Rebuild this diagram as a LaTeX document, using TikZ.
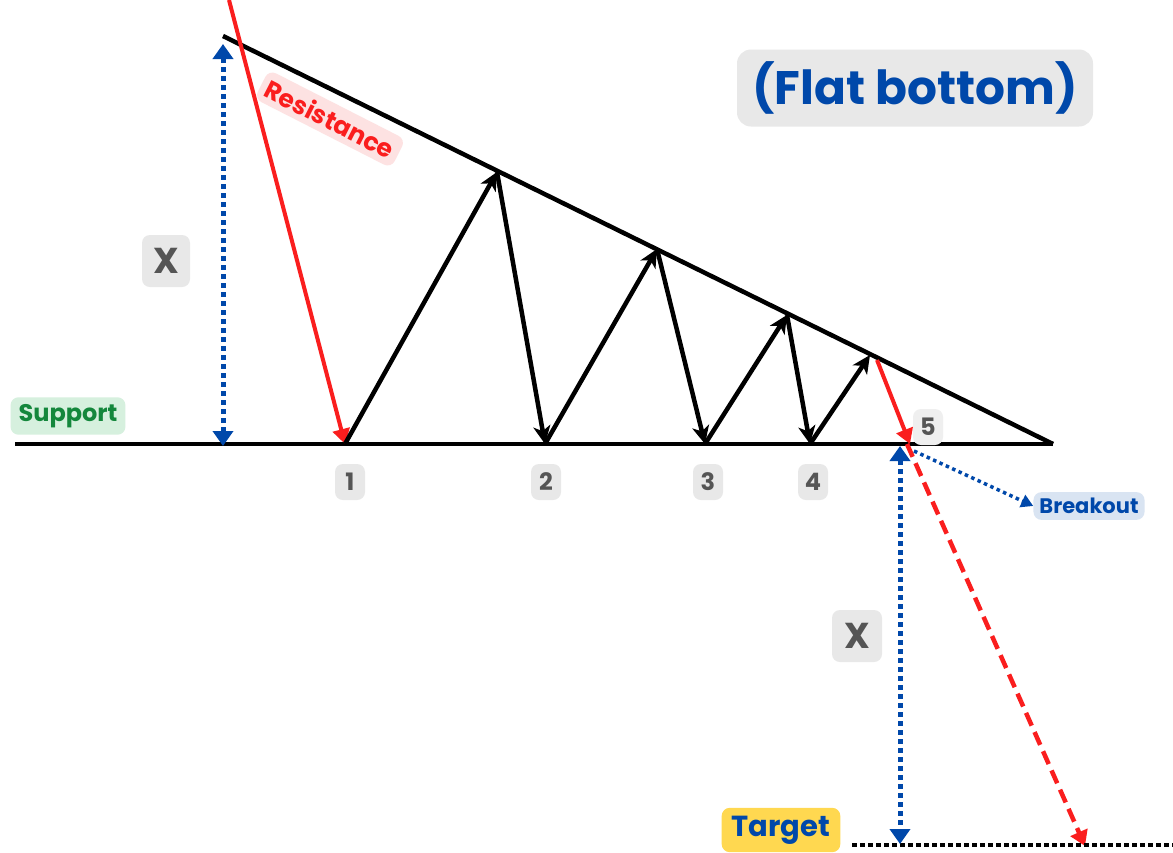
\documentclass[tikz,border=0pt]{standalone}
\usepackage{fontspec}
\setmainfont{Poppins}[BoldFont={* Bold}]
\usetikzlibrary{arrows.meta}
\definecolor{myblue}{RGB}{0,72,170}
\definecolor{myred}{RGB}{250,30,30}
\definecolor{pinkbg}{RGB}{253,226,226}
\definecolor{greentx}{RGB}{20,135,60}
\definecolor{greenbg}{RGB}{214,240,222}
\definecolor{graybg}{RGB}{232,232,232}
\definecolor{graytx}{RGB}{85,85,85}
\definecolor{yellowbg}{RGB}{255,216,80}
\begin{document}
\begin{tikzpicture}[x=1pt,y=-1pt,
  lbl/.style={rounded corners=8pt,inner sep=4pt,font=\bfseries},
  numlbl/.style={lbl,fill=graybg,text=graytx,font=\bfseries\fontsize{24}{24}\selectfont,minimum width=30pt,minimum height=36pt,inner sep=2pt},
  blk/.style={line width=4.5pt},
  blkarr/.style={blk,-{Stealth[length=18pt,width=17pt,inset=5pt]}},
  redarr/.style={myred,line width=4pt,-{Triangle[length=15pt,width=17pt]}},
  bluedot/.style={myblue,line width=5pt,dash pattern=on 5pt off 4pt},
  bluetip/.style={{Triangle[length=15pt,width=20pt]}-{Triangle[length=15pt,width=20pt]}},
]
\useasboundingbox (0,0) rectangle (1173,852);
\fill[white] (0,0) rectangle (1173,852);
% points
\coordinate (sL) at (15,444);
\coordinate (sR) at (1053,444);
\coordinate (rL) at (223,36);
\coordinate (r0) at (229,0);
\coordinate (b1) at (345,444);
\coordinate (p1) at (497,172);
\coordinate (b2) at (545,444);
\coordinate (p2) at (657,249);
\coordinate (b3) at (705,444);
\coordinate (p3) at (787,315);
\coordinate (b4) at (810,444);
\coordinate (p4) at (870,355);
\coordinate (q4) at (877,360);
\coordinate (b5) at (910,444);
\coordinate (d5) at (907,444);
\coordinate (tg) at (1085,846);
\coordinate (xT) at (223,44);
\coordinate (xB) at (223,446);
\coordinate (yT) at (900,446);
\coordinate (yB) at (900,844);
\coordinate (bk0) at (914,451);
\coordinate (tL) at (852,845);
\coordinate (tR) at (1173,845);
% support & resistance
\draw[blk] (sL) -- (sR);
\draw[blk] (rL) -- (sR);
% zigzag
\draw[redarr] (r0) -- (b1);
\draw[blkarr] (b1) -- (p1);
\draw[blkarr] (p1) -- (b2);
\draw[blkarr] (b2) -- (p2);
\draw[blkarr] (p2) -- (b3);
\draw[blkarr] (b3) -- (p3);
\draw[blkarr] (p3) -- (b4);
\draw[blkarr] (b4) -- (p4);
\draw[redarr] (q4) -- (b5);
\draw[myred,line width=4.5pt,dash pattern=on 14pt off 7pt,-{Triangle[length=15pt,width=18pt]}] (d5) -- (tg);
% target dotted line
\draw[line width=4.5pt,dash pattern=on 4.5pt off 3.5pt] (tL) -- (tR);
% measure arrows
\draw[bluedot,bluetip] (xT) -- (xB);
\draw[bluedot,bluetip] (yT) -- (yB);
% labels
\node[lbl,fill=greenbg,text=greentx,font=\bfseries\fontsize{24}{24}\selectfont,inner xsep=8pt,inner ysep=7pt] (sup) at (68,416) {Support};
\node[lbl,fill=graybg,text=graytx,font=\bfseries\fontsize{36}{36}\selectfont,minimum width=48pt,minimum height=52pt,inner sep=1pt] (x1) at (166,261) {X};
\node[lbl,fill=graybg,text=graytx,font=\bfseries\fontsize{36}{36}\selectfont,minimum width=50pt,minimum height=52pt,inner sep=1pt] (x2) at (857,636) {X};
\node[lbl,fill=pinkbg,text=myred,font=\bfseries\fontsize{25}{25}\selectfont,rotate=-27,inner xsep=6pt,inner ysep=6pt] (res) at (330,119) {Resistance};
\node[lbl,fill=graybg,text=myblue,font=\bfseries\fontsize{47}{47}\selectfont,minimum width=356pt,minimum height=77pt,rounded corners=14pt,inner sep=1pt] (title) at (915,88) {(Flat bottom)};
\node[numlbl] (n1) at (350,482) {1};
\node[numlbl] (n2) at (546,482) {2};
\node[numlbl] (n3) at (708,482) {3};
\node[numlbl] (n4) at (813,482) {4};
\node[numlbl,fill=graybg!70] (n5) at (928,427) {5};
\node[lbl,fill=myblue!15,text=myblue,font=\bfseries\fontsize{21}{21}\selectfont,inner xsep=6pt,inner ysep=6pt] (brk) at (1089,506) {Breakout};
\node[lbl,fill=yellowbg,text=myblue,font=\bfseries\fontsize{29}{29}\selectfont,inner xsep=10pt,inner ysep=8pt] (tgt) at (781,830) {Target};
\draw[myblue,line width=3.5pt,dash pattern=on 3.5pt off 3.5pt,-{Triangle[length=12pt,width=13pt]}] (bk0) -- (brk.west);
\end{tikzpicture}
\end{document}
